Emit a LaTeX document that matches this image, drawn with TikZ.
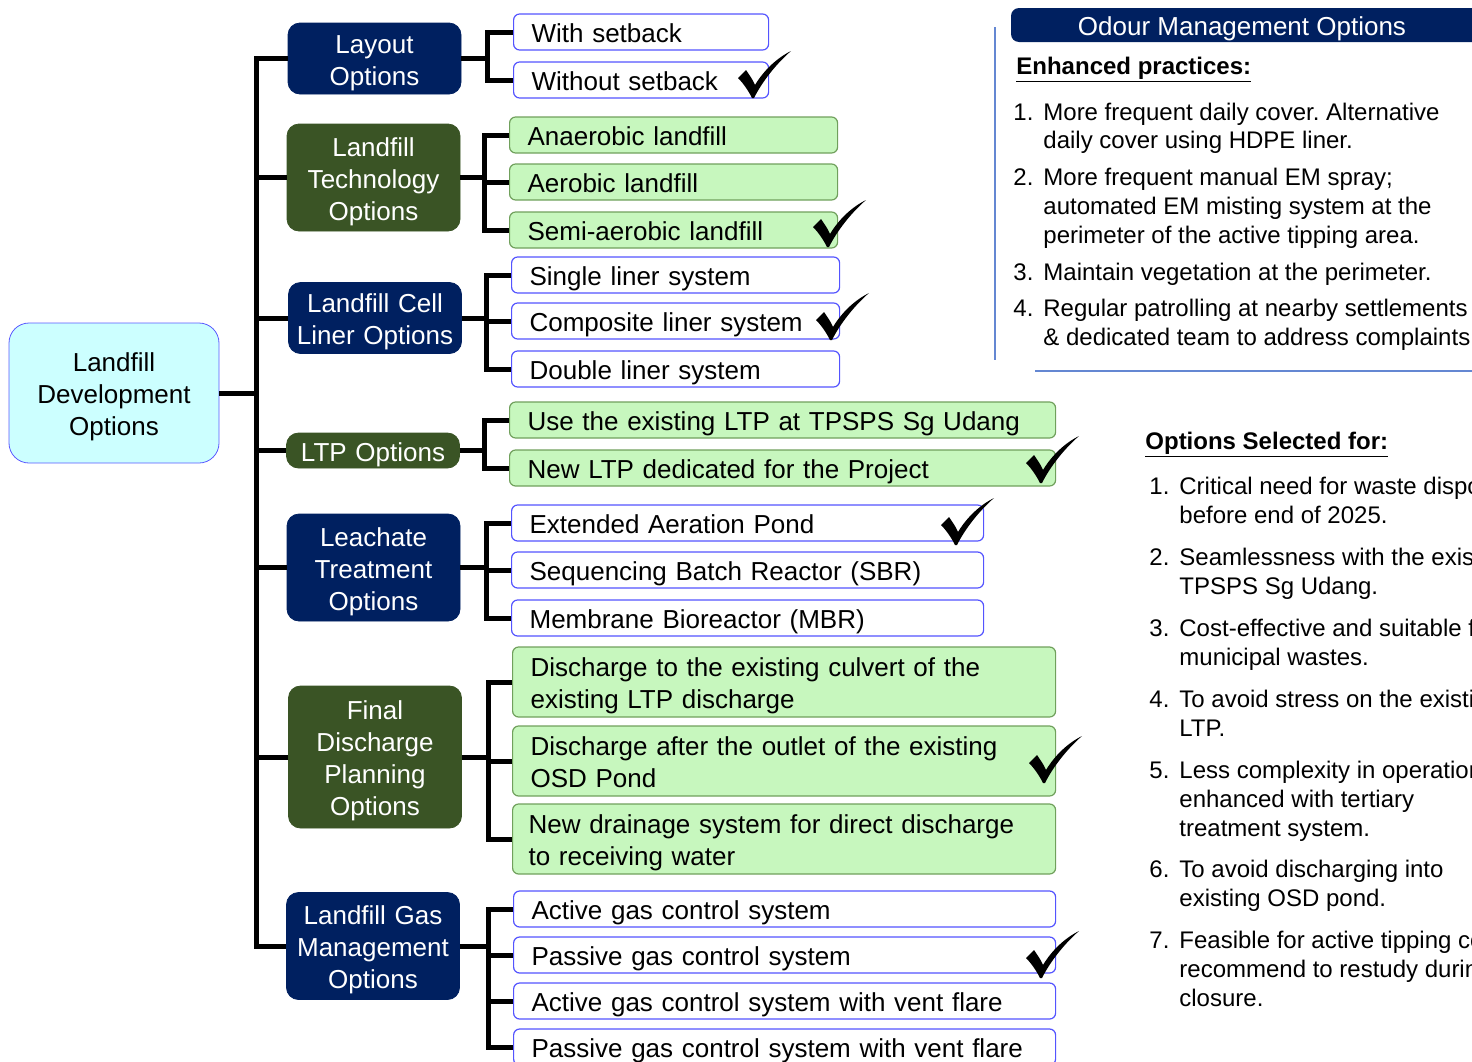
\documentclass[tikz,border=0pt]{standalone}
\usepackage{fontspec}
\setmainfont{Liberation Sans}
\frenchspacing
\definecolor{navybox}{RGB}{0,32,96}
\definecolor{greenbox}{RGB}{58,84,37}
\definecolor{optfill}{RGB}{199,247,190}
\definecolor{optgreenline}{RGB}{112,160,92}
\definecolor{optblueline}{RGB}{84,84,255}
\definecolor{rootfill}{RGB}{204,255,255}
\definecolor{rootline}{RGB}{90,90,255}
\definecolor{panelline}{RGB}{100,135,210}
\tikzset{
  boxtext/.style={font=\fontsize{13}{16}\selectfont, execute at begin node={\rule{0pt}{13.5pt}}, execute at end node={\rule[-3pt]{0pt}{3pt}}},
  rootbox/.style={boxtext, draw=rootline, fill=rootfill, rounded corners=10pt, inner xsep=5pt, text width=95pt, minimum height=70pt, align=center},
  catbox/.style={boxtext, fill=#1, draw=#1, rounded corners=6pt, text=white, text width=86.5pt, align=center, inner sep=0pt},
  optbase/.style={boxtext, anchor=west, inner xsep=9pt, inner ysep=0pt, minimum height=18pt, rounded corners=3pt, align=left, text width=#1},
  optwhite/.style={optbase=#1, draw=optblueline, fill=white, line width=0.6pt},
  optgreen/.style={optbase=#1, draw=optgreenline, fill=optfill, line width=0.6pt},
  branch/.style={line width=2.5pt},
  listtxt/.style={anchor=base west, inner sep=0pt, font=\fontsize{12}{14.5}\selectfont},
  okmark/.pic={
    \fill (0,0) .. controls (-4,-8) and (-9,-15) .. (-14,-20) -- (-6,-28)
      .. controls (-2,-22) and (1,-18) .. (3,-13)
      .. controls (12,-28) and (25,-40) .. (39,-47)
      .. controls (24,-34) and (10,-16) .. (2,0) -- cycle;
  }
}

\begin{document}
\begin{tikzpicture}[x=0.5pt,y=-0.5pt]
  \useasboundingbox (0,0) rectangle (1472,1061);
  \clip (0,0) rectangle (1472,1061);

  % root and categories
  \node[rootbox] (root) at (114,393) {Landfill\\Development\\Options};
  \node[catbox=navybox, minimum height=35.5pt] (lay) at (374.5,58.5) {Layout\\Options};
  \node[catbox=greenbox, minimum height=53.5pt] (tech) at (373.5,177.5) {Landfill\\Technology\\Options};
  \node[catbox=navybox, minimum height=35.5pt] (liner) at (375,318) {Landfill Cell\\Liner Options};
  \node[catbox=greenbox, minimum height=17.5pt] (ltp) at (373,450.5) {LTP Options};
  \node[catbox=navybox, minimum height=53.5pt] (lea) at (373.5,567.5) {Leachate\\Treatment\\Options};
  \node[catbox=greenbox, minimum height=71pt] (fin) at (375,757) {Final\\Discharge\\Planning\\Options};
  \node[catbox=navybox, minimum height=53.5pt] (gas) at (373,946) {Landfill Gas\\Management\\Options};

  % options
  \node[optwhite=109.5pt] (lay1) at (513,32) {With setback};
  \node[optwhite=109.5pt] (lay2) at (513,80) {Without setback};
  \node[optgreen=146pt] (tech1) at (509,135) {Anaerobic landfill};
  \node[optgreen=146pt] (tech2) at (509,182) {Aerobic landfill};
  \node[optgreen=146pt] (tech3) at (509,230) {Semi-aerobic landfill};
  \node[optwhite=146pt] (liner1) at (511,275) {Single liner system};
  \node[optwhite=146pt] (liner2) at (511,321) {Composite liner system};
  \node[optwhite=146pt] (liner3) at (511,369) {Double liner system};
  \node[optgreen=255pt] (ltp1) at (509,420) {Use the existing LTP at TPSPS Sg Udang};
  \node[optgreen=255pt] (ltp2) at (509,468) {New LTP dedicated for the Project};
  \node[optwhite=218pt] (lea1) at (511,523) {Extended Aeration Pond};
  \node[optwhite=218pt] (lea2) at (511,570) {Sequencing Batch Reactor (SBR)};
  \node[optwhite=218pt] (lea3) at (511,618) {Membrane Bioreactor (MBR)};
  \node[optgreen=253.5pt, minimum height=35pt] (fin1) at (512,682) {Discharge to the existing culvert of the\\existing LTP discharge};
  \node[optgreen=253.5pt, minimum height=35pt] (fin2) at (512,761) {Discharge after the outlet of the existing\\OSD Pond};
  \node[optgreen=255.5pt, minimum height=35pt, inner xsep=8pt] (fin3) at (512,839) {New drainage system for direct discharge\\to receiving water};
  \node[optwhite=253pt] (gas1) at (513,909) {Active gas control system};
  \node[optwhite=253pt] (gas2) at (513,955) {Passive gas control system};
  \node[optwhite=253pt] (gas3) at (513,1001) {Active gas control system with vent flare};
  \node[optwhite=253pt] (gas4) at (513,1047) {Passive gas control system with vent flare};

  % trunk
  \coordinate (trunk) at (256,400);
  \draw[branch] (lay.west) -| (trunk) |- (gas.west);
  \foreach \n in {tech,liner,ltp,lea,fin}
    \draw[branch] (\n.west) -- (\n.west -| trunk);
  \draw[branch] (root.east) -- (root.east -| trunk);

  % brackets
  \coordinate (layJ) at (487,0);
  \draw[branch] (lay.east) -- (layJ |- lay.east);
  \draw[branch] (lay1.west) -| (layJ |- lay.east) |- (lay2.west);
  \coordinate (techJ) at (484,0);
  \draw[branch] (tech.east) -- (techJ |- tech.east);
  \draw[branch] (tech1.west) -| (techJ |- tech.east) |- (tech3.west);
  \draw[branch] (tech2.west) -- (tech2.west -| techJ);
  \coordinate (linerJ) at (486,0);
  \draw[branch] (liner.east) -- (linerJ |- liner.east);
  \draw[branch] (liner1.west) -| (linerJ |- liner.east) |- (liner3.west);
  \draw[branch] (liner2.west) -- (liner2.west -| linerJ);
  \coordinate (ltpJ) at (484,0);
  \draw[branch] (ltp.east) -- (ltpJ |- ltp.east);
  \draw[branch] (ltp1.west) -| (ltpJ |- ltp.east) |- (ltp2.west);
  \coordinate (leaJ) at (486,0);
  \draw[branch] (lea.east) -- (leaJ |- lea.east);
  \draw[branch] (lea1.west) -| (leaJ |- lea.east) |- (lea3.west);
  \draw[branch] (lea2.west) -- (lea2.west -| leaJ);
  \coordinate (finJ) at (488,0);
  \draw[branch] (fin.east) -- (finJ |- fin.east);
  \draw[branch] (fin1.west) -| (finJ |- fin.east) |- (fin3.west);
  \draw[branch] (fin2.west) -- (fin2.west -| finJ);
  \coordinate (gasJ) at (488,0);
  \draw[branch] (gas.east) -- (gasJ |- gas.east);
  \draw[branch] (gas1.west) -| (gasJ |- gas.east) |- (gas4.west);
  \draw[branch] (gas2.west) -- (gas2.west -| gasJ);
  \draw[branch] (gas3.west) -- (gas3.west -| gasJ);

  % ticks for the chosen options
  \pic at (752,98) {okmark};
  \pic at (827,247) {okmark};
  \pic at (830,340) {okmark};
  \pic at (1040,483) {okmark};
  \pic at (955,545) {okmark};
  \pic at (1043,783) {okmark};
  \pic at (1040,978) {okmark};

  % odour panel
  \draw[panelline, line width=0.7pt] (995,27) -- (995,360);
  \draw[panelline, line width=0.7pt] (1035,371) -- (1480,371);
  \fill[navybox, rounded corners=4pt] (1011,8) rectangle (1500,42);
  \node[anchor=base, inner sep=0pt, text=white, font=\fontsize{13}{16}\selectfont] (odour) at (1242,35) {Odour Management Options};
  \node[listtxt, font=\fontsize{12}{14.5}\selectfont\bfseries] (enh) at (1016,74) {\underline{Enhanced practices:}};
  \foreach \y/\t in {120/1., 185/2., 280/3., 316/4.}
    \node[listtxt] at (1013,\y) {\t};
  \foreach \y/\t in {120/{More frequent daily cover. Alternative}, 148/{daily cover using HDPE liner.},
      185/{More frequent manual EM spray;}, 214/{automated EM misting system at the},
      243/{perimeter of the active tipping area.}, 280/{Maintain vegetation at the perimeter.},
      316/{Regular patrolling at nearby settlements}, 345/{\& dedicated team to address complaints.}}
    \node[listtxt] at (1043,\y) {\t};

  % reasons
  \node[listtxt, font=\fontsize{12}{14.5}\selectfont\bfseries] (sel) at (1145,449) {\underline{Options Selected for:}};
  \foreach \y/\t in {494/1., 565/2., 636/3., 707/4., 778/5., 877/6., 948/7.}
    \node[listtxt] at (1149,\y) {\t};
  \foreach \y/\t in {494/{Critical need for waste dispo}, 523/{before end of 2025.},
      565/{Seamlessness with the exis}, 594/{TPSPS Sg Udang.},
      636/{Cost-effective and suitable f}, 665/{municipal wastes.},
      707/{To avoid stress on the existi}, 736/{LTP.},
      778/{Less complexity in operation}, 807/{enhanced with tertiary}, 836/{treatment system.},
      877/{To avoid discharging into}, 906/{existing OSD pond.},
      948/{Feasible for active tipping co}, 977/{recommend to restudy durin}, 1006/{closure.}}
    \node[listtxt] at (1179,\y) {\t};
\end{tikzpicture}
\end{document}
